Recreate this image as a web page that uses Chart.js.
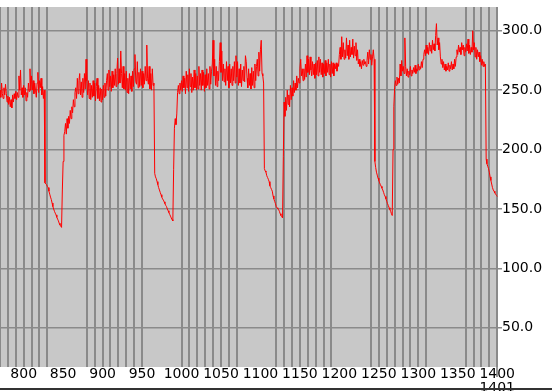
<!DOCTYPE html>
<html>
<head>
<meta charset="utf-8">
<script src="https://cdn.jsdelivr.net/npm/chart.js@4.4.0/dist/chart.umd.min.js"></script>
<style>
  html, body { margin: 0; padding: 0; background: #fff; }
  #wrap { position: relative; width: 552px; height: 391px; overflow: hidden; }
  #trendChart { display: block; }
  #baseLine { position: absolute; left: 0; top: 388px; width: 552px; height: 2px; background: #333; }
</style>
</head>
<body>
<div id="wrap">
  <canvas id="trendChart" width="552" height="391"></canvas>
  <div id="baseLine"></div>
</div>
<script>
// Trend chart: five load cycles, red trace on grey plot

const xStart = 770;   // one reading per unit from here on
const xMin = 770;
const xMax = 1401;

const values = [
  // 770 - 826
  250, 244, 256, 247, 243, 252, 246, 255, 247, 240,
  245, 238, 244, 236, 242, 235, 246, 240, 247, 243,
  249, 242, 248, 244, 262, 250, 267, 246, 252, 244,
  254, 246, 252, 241, 248, 244, 256, 249, 268, 250,
  262, 250, 258, 247, 256, 250, 244, 256, 265, 248,
  258, 252, 260, 246, 253, 243, 250,
  // 827 - 848 first fall
  172, 171, 170.5, 169, 168, 165, 162.5, 160, 158, 155, 152, 150, 148, 146.5, 145, 143, 141.5, 140, 138, 136.5,
  135.5, 134.5,
  // 849 - 865 recovery
  166, 190, 212, 215, 222, 213, 226, 218, 228, 222, 233, 226, 236, 231, 242, 236, 248,
  // 866 - 965
  252, 243, 260, 247, 258, 264, 246, 257, 244, 260,
  248, 264, 251, 276, 258, 246, 258, 243, 256, 242,
  254, 244, 258, 245, 256, 241, 253, 260, 243, 254,
  241, 252, 240, 251, 242, 254, 244, 256, 245, 258,
  264, 250, 267, 253, 262, 249, 266, 252, 263, 254,
  268, 253, 264, 277, 255, 268, 256, 283, 264, 252,
  270, 251, 264, 250, 266, 248, 260, 247, 264, 251,
  262, 249, 266, 253, 268, 280, 257, 255, 274, 252,
  265, 253, 268, 254, 266, 252, 264, 255, 270, 258,
  288, 260, 255, 270, 251, 264, 250, 268, 254, 256,
  // 966 - 989 second fall
  180, 177, 175.5, 173, 170.5, 168, 166, 164, 162, 160, 158.5, 157.5, 156, 154.5, 153, 152, 150, 148.5, 147, 145.5,
  144, 142.5, 141, 140,
  // 990 - 1003 recovery
  183, 218, 226, 221, 230, 248, 254, 247, 256, 250, 258, 249, 262, 252,
  // 1004 - 1104
  260, 247, 266, 252, 263, 249, 268, 253, 264, 248,
  261, 250, 267, 252, 264, 250, 262, 251, 270, 254,
  264, 250, 267, 254, 265, 249, 263, 252, 268, 254,
  264, 251, 270, 255, 266, 272, 292, 262, 276, 254,
  270, 253, 266, 258, 274, 290, 265, 283, 258, 272,
  257, 268, 254, 274, 258, 270, 252, 272, 256, 268,
  254, 270, 258, 274, 256, 279, 261, 274, 254, 268,
  256, 272, 253, 267, 258, 270, 257, 279, 274, 260,
  252, 268, 254, 264, 251, 269, 254, 266, 252, 272,
  258, 270, 276, 262, 282, 266, 284, 292, 264, 262, 256,
  // 1105 - 1128 third fall
  184, 182, 181, 178, 176.5, 175, 173, 169.5, 168, 166.5, 165, 161, 158.5, 156.5, 154.5, 152, 151, 150, 149.5, 148,
  146, 144.5, 143.5, 142.5,
  // 1129 - 1154 recovery
  194, 240, 228, 244, 233, 250, 238, 246, 236, 254, 242, 252, 245, 258, 248, 256, 250, 262, 252, 260,
  256, 268, 276, 262, 268, 258,
  // 1155 - 1244
  268, 259, 272, 261, 279, 265, 276, 263, 278, 267,
  262, 274, 263, 272, 260, 273, 263, 275, 262, 278,
  265, 276, 263, 273, 261, 272, 264, 275, 262, 273,
  265, 276, 263, 272, 261, 274, 264, 273, 262, 272,
  268, 273, 266, 272, 270, 280, 286, 276, 295, 278,
  290, 276, 284, 277, 294, 279, 288, 276, 292, 278,
  286, 280, 293, 277, 287, 279, 290, 275, 284, 272,
  276, 270, 274, 268, 275, 271, 276, 272, 274, 270,
  275, 282, 272, 284, 276, 280, 271, 278, 284, 276,
  // 1245 - 1267 fourth fall
  190, 185, 181, 178.5, 176, 174, 172, 170.5, 169, 167.5, 166, 164, 162, 160.5, 158.5, 156.5, 154.5, 153, 151, 149.5,
  148, 146, 144.5,
  // 1268 - 1306 recovery
  200, 236, 252, 258, 254, 261, 255, 260, 256, 272, 262, 275, 266, 270, 264, 294, 270,
  262, 268, 261, 266, 263, 270, 262, 267, 264, 269, 265, 271, 264, 268, 266, 272, 267, 270, 268, 274,
  269, 276,
  // 1307 - 1385
  280, 284, 279, 288, 281, 286, 280, 290, 283, 288, 281, 292, 284, 289, 283, 296, 306, 288, 294, 284,
  290,
  278, 272, 276, 269, 274, 267, 272, 266, 270, 267, 273, 266, 271, 268, 274, 267, 272, 268, 276, 270,
  278,
  284, 280, 288, 282, 286, 280, 290, 284, 288, 279, 286, 282, 289, 283, 293, 281, 288, 280, 286, 282,
  300, 284, 290, 278, 286, 276, 284, 278,
  282, 274, 279, 271, 276, 270, 274, 270, 272,
  // 1386 - 1400 fifth fall
  192, 188, 186, 184, 181, 177, 174, 171, 168, 166, 165, 163.5, 162.5, 161.5, 160.5
];

const xTickValues = [750, 800, 850, 900, 950, 1000, 1050, 1100, 1150, 1200, 1250, 1300, 1350, 1400];
const xTickLabels = ['750', '800', '850', '900', '950', '1000', '1050', '1100', '1150', '1200', '1250', '1300', '1350', '1400'];
const xEndLabel = '1401';

const xGridValues = [
  770, 780, 790, 800, 810, 820, 830,
  880, 890, 900, 910, 920, 930, 940, 950,
  1000, 1010, 1020, 1030, 1040, 1050, 1060, 1070,
  1120, 1130, 1140, 1150, 1160, 1170, 1180, 1190,
  1240, 1250, 1260, 1270, 1280, 1290, 1300, 1310,
  1360, 1370, 1380, 1390, 1400
];

const yMin = 17;
const yMax = 320;
const yTickValues = [50, 100, 150, 200, 250, 300];

const points = values.map((v, i) => ({ x: xStart + i, y: v }));

const labelFont = { family: 'DejaVu Sans', size: 14, lineHeight: 1 };

const plotBackground = {
  id: 'plotBackground',
  beforeDraw(chart) {
    const { ctx, chartArea: a } = chart;
    ctx.save();
    ctx.fillStyle = '#c8c8c8';
    ctx.fillRect(a.left, a.top, a.right - a.left, a.bottom - a.top);
    ctx.restore();
  }
};

new Chart(document.getElementById('trendChart'), {
  type: 'line',
  data: {
    datasets: [{
      data: points,
      borderColor: '#ff0000',
      borderWidth: 1,
      pointRadius: 0,
      tension: 0,
      fill: false
    }]
  },
  options: {
    responsive: false,
    animation: false,
    events: [],
    layout: { padding: 0 },
    plugins: {
      legend: { display: false },
      tooltip: { enabled: false }
    },
    scales: {
      x: {
        type: 'linear',
        position: 'bottom',
        weight: 1,
        min: xMin,
        max: xMax,
        afterBuildTicks: s => { s.ticks = xTickValues.map(v => ({ value: v })); },
        afterFit: s => { s.height = 24; s.paddingLeft = 0; s.paddingRight = 0; },
        grid: { display: false, drawTicks: false },
        border: { display: false },
        ticks: {
          autoSkip: false,
          maxRotation: 0,
          minRotation: 0,
          padding: 0,
          color: '#000',
          font: labelFont,
          callback: function(value, index) {
            const label = xTickLabels[index];
            if (index === xTickLabels.length - 1) return [label, xEndLabel];
            return label;
          }
        }
      },
      xg: {
        type: 'linear',
        position: 'bottom',
        weight: 0,
        min: xMin,
        max: xMax,
        afterBuildTicks: s => { s.ticks = xGridValues.map(v => ({ value: v })); },
        afterFit: s => { s.height = 0; },
        grid: {
          color: '#8a8a8a',
          lineWidth: 2,
          drawTicks: true,
          tickLength: 10,
          tickWidth: 1,
          tickColor: c => (c.tick && c.tick.value === 1400 ? '#333' : 'rgba(0,0,0,0)')
        },
        border: { display: false },
        ticks: { display: false }
      },
      y: {
        position: 'right',
        min: yMin,
        max: yMax,
        afterBuildTicks: s => { s.ticks = yTickValues.map(v => ({ value: v })); },
        afterFit: s => { s.width = 54; },
        grid: { color: '#8a8a8a', lineWidth: 1.5, tickLength: 4 },
        border: { display: false },
        ticks: {
          padding: 0,
          color: '#000',
          font: labelFont,
          callback: v => v.toFixed(1)
        }
      }
    }
  },
  plugins: [plotBackground]
});
</script>
</body>
</html>
